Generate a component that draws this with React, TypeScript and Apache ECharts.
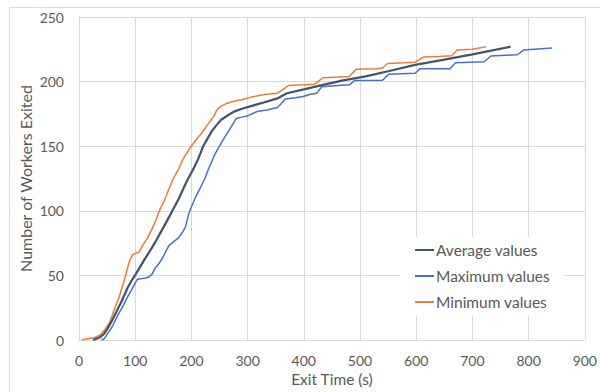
import React, { useEffect, useRef } from "react";
import * as echarts from "echarts";

// Average values
const avgTime = [25, 37, 45, 51, 60, 69, 78, 86, 95, 101, 108, 116, 125, 136, 150, 165, 177, 192, 203, 212, 221, 236, 245, 253, 265, 277, 290, 306, 330, 353, 370, 400, 434, 470, 510, 550, 598, 650, 700, 768];
const avgCount = [0, 2, 5, 9, 16, 24, 32, 40, 47, 51, 56, 62, 68, 76, 87, 99, 109, 123, 132, 140, 150, 161.5, 166.5, 170.5, 174, 177, 179, 181, 184, 187, 191, 194, 197.5, 201, 204, 208, 213, 217, 221, 227];

// Maximum values
const maxTime = [40, 45, 51, 60, 69, 78, 86, 95, 101, 104, 119, 125, 130, 136, 142, 148, 155, 160, 168, 177, 185, 189, 195, 198, 203, 209, 216, 224, 230, 236, 241, 247, 255, 262, 268, 275, 280, 290, 300, 310, 318, 335, 353, 360, 367, 385, 399, 410, 423, 432, 460, 481, 490, 540, 551, 598, 607, 660, 670, 721, 733, 780, 791, 842];
const maxCount = [0, 1, 5, 11, 19, 26, 33, 40, 45, 47, 48, 49, 51, 56, 59, 63, 69, 73, 76, 79, 84, 87, 97, 101, 106, 112, 118, 125, 132, 138, 143, 148, 154, 159, 163, 168, 171.5, 172.5, 173.5, 175.5, 177, 178, 180, 183, 186.5, 187.5, 188.5, 190, 191, 196, 197, 197.5, 200.8, 201, 205.7, 206.5, 210, 210, 214.6, 215.4, 219.8, 220.8, 224.4, 226];

// Minimum values
const minTime = [5, 15, 28, 38, 46, 55, 63, 72, 81, 89, 95, 100, 107, 113, 122, 130, 137, 142, 145, 152, 160, 168, 177, 185, 198, 210, 218, 226, 236, 240, 245, 253, 262, 277, 290, 306, 330, 353, 360, 373, 400, 419, 434, 460, 481, 493, 528, 540, 549, 580, 598, 613, 640, 663, 673, 700, 724];
const minCount = [0, 1, 2, 4, 8, 14, 24, 34, 47, 60, 66, 67, 68, 73, 79, 86, 93, 99, 102, 108, 117, 125, 132, 140, 149, 156, 160, 165, 171, 173, 178, 181, 183, 185, 186, 188, 190, 191, 193, 197, 197.5, 198, 203, 203.5, 204, 209.5, 210, 210.5, 214, 214.5, 215, 219, 219.5, 220, 224.5, 225, 227];

const seriesNames = ["Average values", "Maximum values", "Minimum values"];
const seriesColors = ["#44546A", "#4472C4", "#ED7D31"];
const xTicks = [0, 100, 200, 300, 400, 500, 600, 700, 800, 900];
const yTicks = [0, 50, 100, 150, 200, 250];

const zip = (xs: number[], ys: number[]) => xs.map((x, i) => [x, ys[i]]);

const FONT = "Lato, 'Open Sans', sans-serif";
const TEXT = "#595959";
const GRID = "#d9d9d9";

export default function App() {
  const ref = useRef<HTMLDivElement>(null);
  useEffect(() => {
    if (!ref.current) return;
    const chart = echarts.init(ref.current, undefined, { renderer: "svg" });
    chart.setOption({
      animation: false,
      backgroundColor: "#ffffff",
      textStyle: { fontFamily: FONT },
      graphic: [
        {
          type: "rect",
          silent: true,
          z: -10,
          shape: { x: 9.5, y: 7.5, width: 620, height: 420 },
          style: { fill: "none", stroke: GRID, lineWidth: 1 },
        },
      ],
      grid: { left: 79, right: 8, top: 17, bottom: 50, containLabel: false },
      legend: {
        orient: "vertical",
        left: 400,
        top: 237,
        padding: [5, 14, 6, 15],
        backgroundColor: "#ffffff",
        icon: "rect",
        itemWidth: 19,
        itemHeight: 2,
        itemGap: 10,
        data: seriesNames.map((name, i) => ({ name, itemStyle: { color: seriesColors[i] } })),
        textStyle: { color: TEXT, fontSize: 15.5, lineHeight: 15, fontFamily: FONT, padding: [0, 0, 0, -3] },
      },
      xAxis: {
        type: "value",
        min: xTicks[0],
        max: xTicks[xTicks.length - 1],
        interval: 100,
        name: "Exit Time (s)",
        nameLocation: "middle",
        nameGap: 31,
        nameMoveOverlap: false,
        nameTextStyle: { color: TEXT, fontSize: 15.5, fontFamily: FONT },
        axisLine: { show: true, lineStyle: { color: GRID } },
        axisTick: { show: false },
        axisLabel: { color: TEXT, fontSize: 14, margin: 13, fontFamily: FONT },
        splitLine: { show: true, lineStyle: { color: GRID, width: 1 } },
      },
      yAxis: {
        type: "value",
        min: yTicks[0],
        max: yTicks[yTicks.length - 1],
        interval: 50,
        name: "Number of Workers Exited",
        nameLocation: "middle",
        nameGap: 46,
        nameMoveOverlap: false,
        nameTextStyle: { color: TEXT, fontSize: 16, fontFamily: FONT },
        axisLine: { show: true, lineStyle: { color: GRID } },
        axisTick: { show: false },
        axisLabel: { color: TEXT, fontSize: 14, margin: 15, fontFamily: FONT },
        splitLine: { show: true, lineStyle: { color: GRID, width: 1 } },
      },
      series: [
        {
          name: seriesNames[0],
          type: "line",
          symbol: "none",
          data: zip(avgTime, avgCount),
          lineStyle: { color: seriesColors[0], width: 2.25 },
          itemStyle: { color: seriesColors[0] },
          z: 3,
        },
        {
          name: seriesNames[1],
          type: "line",
          symbol: "none",
          data: zip(maxTime, maxCount),
          lineStyle: { color: seriesColors[1], width: 1.5 },
          itemStyle: { color: seriesColors[1] },
          z: 2,
        },
        {
          name: seriesNames[2],
          type: "line",
          symbol: "none",
          data: zip(minTime, minCount),
          lineStyle: { color: seriesColors[2], width: 1.5 },
          itemStyle: { color: seriesColors[2] },
          z: 2,
        },
      ],
    });
    return () => chart.dispose();
  }, []);
  return (
    <div
      ref={ref}
      style={{ position: "fixed", left: 0, top: 0, width: 600, height: 392, background: "#fff" }}
    />
  );
}
